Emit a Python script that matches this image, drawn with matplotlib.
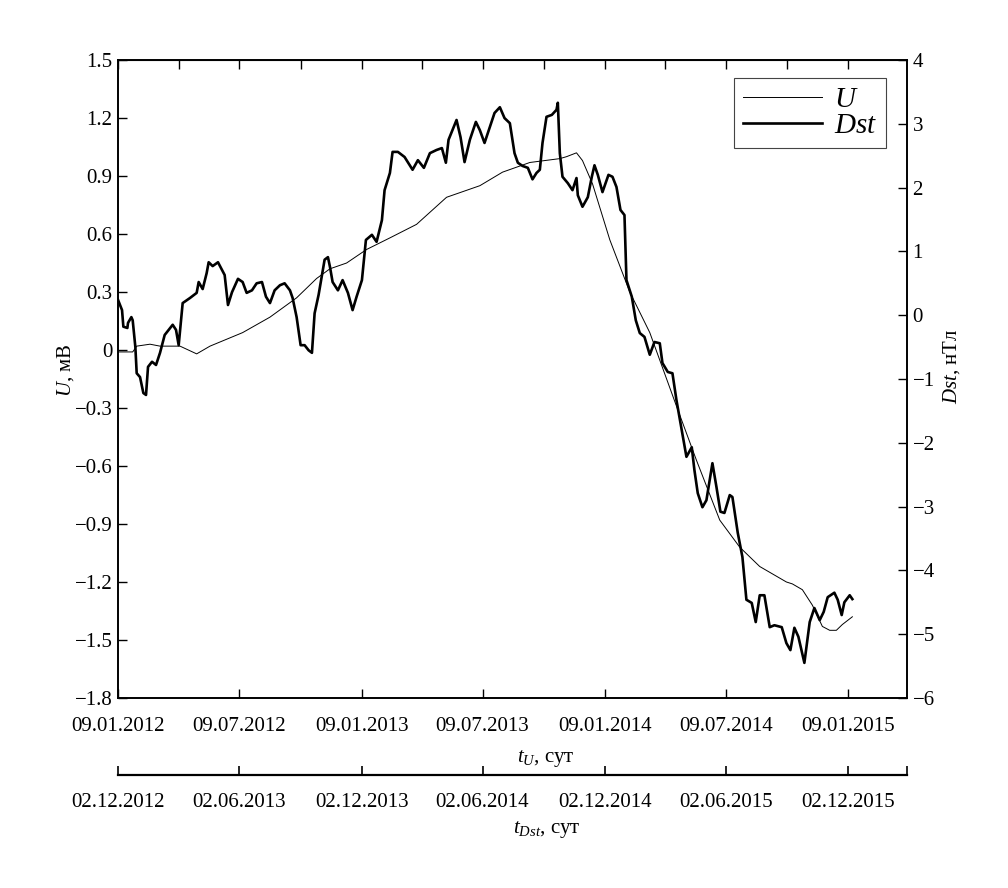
import numpy as np
import matplotlib
matplotlib.use('Agg')
import matplotlib.pyplot as plt

plt.rcParams['font.family'] = 'Liberation Serif'
plt.rcParams['mathtext.fontset'] = 'custom'
plt.rcParams['mathtext.rm'] = 'Liberation Serif'
plt.rcParams['mathtext.it'] = 'Liberation Serif:italic'

# days since 09.01.2012, U in mV
u_days = [0, 22, 28, 48, 63, 93, 118, 138, 187, 228, 268, 298, 318, 343, 373, 408,
          448, 493, 543, 577, 618, 663, 673, 688, 697, 712, 738, 768, 798, 838, 868,
          903, 933, 963, 1003, 1012, 1027, 1042, 1057, 1068, 1078, 1087, 1102]
u_vals = [-0.01, -0.01, 0.02, 0.03, 0.02, 0.02, -0.02, 0.02, 0.09, 0.17, 0.27, 0.37,
          0.42, 0.45, 0.52, 0.58, 0.65, 0.79, 0.85, 0.92, 0.97, 0.99, 1.00, 1.02, 0.98,
          0.86, 0.57, 0.30, 0.09, -0.29, -0.57, -0.88, -1.02, -1.12, -1.20, -1.21,
          -1.24, -1.32, -1.43, -1.45, -1.45, -1.42, -1.38]

# days on the same (shifted) scale, Dst in nT
dst_days = [0, 6, 8, 14, 15, 20, 22, 26, 28, 33, 38, 42, 45, 51, 57, 63, 70, 76, 82, 87,
            91, 97, 108, 118, 121, 127, 133, 136, 142, 150, 156, 160, 165, 171, 180, 187,
            193, 201, 208, 216, 222, 228, 235, 243, 250, 258, 262, 268, 274, 280, 286,
            291, 295, 301, 310, 315, 318, 322, 330, 337, 345, 352, 358, 366, 372, 381,
            388, 396, 400, 408, 412, 420, 430, 442, 450, 459, 468, 478, 486, 492, 496,
            508, 514, 520, 528, 537, 543, 550, 558, 565, 573, 580, 588, 595, 600, 607,
            615, 622, 628, 633, 637, 643, 651, 658, 660, 663, 667, 675, 682, 688, 690,
            697, 705, 711, 715, 720, 727, 736, 742, 748, 754, 760, 763, 771, 777, 783,
            790, 798, 805, 813, 817, 825, 832, 838, 846, 853, 861, 865, 870, 877, 883,
            892, 898, 904, 910, 918, 922, 930, 937, 943, 951, 957, 963, 970, 978, 985,
            996, 1003, 1009, 1015, 1021, 1030, 1038, 1045, 1053, 1059, 1065, 1075, 1080,
            1086, 1090, 1098, 1102]
dst_vals = [0.24, 0.08, -0.18, -0.20, -0.12, -0.03, -0.08, -0.50, -0.91, -0.97, -1.22,
            -1.25, -0.81, -0.73, -0.78, -0.59, -0.31, -0.23, -0.15, -0.23, -0.47, 0.19,
            0.27, 0.35, 0.52, 0.41, 0.66, 0.83, 0.77, 0.83, 0.71, 0.63, 0.16, 0.36, 0.57,
            0.52, 0.35, 0.39, 0.50, 0.52, 0.29, 0.19, 0.39, 0.47, 0.50, 0.39, 0.27, -0.03,
            -0.47, -0.47, -0.55, -0.59, 0.03, 0.32, 0.87, 0.91, 0.76, 0.52, 0.39, 0.55,
            0.35, 0.08, 0.29, 0.55, 1.18, 1.26, 1.15, 1.49, 1.96, 2.23, 2.56, 2.56, 2.48,
            2.28, 2.43, 2.31, 2.54, 2.59, 2.62, 2.39, 2.75, 3.06, 2.79, 2.40, 2.75, 3.03,
            2.90, 2.70, 2.95, 3.17, 3.26, 3.09, 3.01, 2.54, 2.39, 2.34, 2.31, 2.13, 2.23,
            2.28, 2.70, 3.11, 3.14, 3.22, 3.33, 2.54, 2.17, 2.07, 1.96, 2.15, 1.88, 1.70,
            1.85, 2.17, 2.35, 2.20, 1.93, 2.20, 2.17, 2.01, 1.65, 1.57, 0.55, 0.29, -0.08,
            -0.28, -0.34, -0.62, -0.42, -0.44, -0.75, -0.89, -0.91, -1.33, -1.80, -2.22,
            -2.07, -2.43, -2.79, -3.01, -2.90, -2.32, -2.69, -3.08, -3.10, -2.82, -2.85,
            -3.41, -3.79, -4.46, -4.51, -4.81, -4.39, -4.39, -4.89, -4.86, -4.89, -5.14,
            -5.25, -4.90, -5.04, -5.45, -4.81, -4.59, -4.78, -4.65, -4.42, -4.35, -4.46,
            -4.70, -4.50, -4.39, -4.45]

tick_days = [0, 182, 366, 547, 731, 912, 1096]
u_labels = ['09.01.2012', '09.07.2012', '09.01.2013', '09.07.2013',
            '09.01.2014', '09.07.2014', '09.01.2015']
dst_labels = ['02.12.2012', '02.06.2013', '02.12.2013', '02.06.2014',
              '02.12.2014', '02.06.2015', '02.12.2015']
top_days = [0, 91, 182, 274, 366, 456, 547, 639, 731, 821, 912, 1004, 1096]
u_yticks = [1.5, 1.2, 0.9, 0.6, 0.3, 0, -0.3, -0.6, -0.9, -1.2, -1.5, -1.8]
u_ylabels = ['1.5', '1.2', '0.9', '0.6', '0.3', '0', '\u22120.3', '\u22120.6',
             '\u22120.9', '\u22121.2', '\u22121.5', '\u22121.8']
dst_yticks = [4, 3, 2, 1, 0, -1, -2, -3, -4, -5, -6]
x_end = 1184

fs = 15

fig = plt.figure(figsize=(10.08, 8.88), dpi=100)
ax = fig.add_axes([0.1171, 0.2140, 0.7827, 0.7184])
ax2 = ax.twinx()

l1, = ax.plot(u_days, u_vals, color='black', lw=0.7, label='$U$')
l2, = ax2.plot(dst_days, dst_vals, color='black', lw=1.9, label='$Dst$')

ax.set_xlim(0, x_end)
ax.set_ylim(-1.8, 1.5)
ax2.set_ylim(-6, 4)

ax.set_xticks(tick_days)
ax.set_xticklabels(u_labels, fontsize=fs)
ax.set_yticks(u_yticks)
ax.set_yticklabels(u_ylabels, fontsize=fs)
ax.tick_params(axis='x', direction='in', length=6.5, width=1, pad=14)
ax.tick_params(axis='y', direction='in', length=6.5, width=1, pad=4)
ax.tick_params(top=False)

ax2.set_yticks(dst_yticks)
ax2.set_yticklabels([str(v).replace('-', '\u2212') for v in dst_yticks], fontsize=fs)
ax2.tick_params(axis='y', direction='in', length=6.5, width=1, pad=4)

# ticks on the top spine
axt = ax.secondary_xaxis('top')
axt.set_xticks(top_days)
axt.set_xticklabels([])
axt.tick_params(direction='in', length=6.5, width=1)

for a in (ax, ax2):
    for s in a.spines.values():
        s.set_linewidth(1.2)

ax.set_ylabel('$U$, мВ', fontsize=fs, va='center')
ax.yaxis.set_label_coords(-0.066, 0.514)
ax2.set_ylabel('$Dst$, нТл', fontsize=fs, va='center', rotation=90)
ax2.yaxis.set_label_coords(1.057, 0.52)

leg = ax2.legend([l1, l2], ['$U$', '$Dst$'], loc='upper right',
                 bbox_to_anchor=(0.973, 0.972), borderaxespad=0, fontsize=21,
                 fancybox=False, edgecolor='#444444', framealpha=1, handlelength=2.7,
                 borderpad=0.3, labelspacing=0.0, handletextpad=0.4)
leg.get_frame().set_linewidth(0.8)

# second time axis for Dst
axb = fig.add_axes([0.1171, 1 - 775 / 888, 0.7827, 0.0001])
axb.set_facecolor('none')
for side in ('left', 'right', 'top'):
    axb.spines[side].set_visible(False)
axb.spines['bottom'].set_linewidth(1.6)
axb.set_xlim(0, x_end)
axb.set_yticks([])
axb.set_xticks(tick_days + [x_end])
axb.set_xticklabels(dst_labels + [''], fontsize=fs)
axb.tick_params(axis='x', direction='in', length=6.5, width=1.2, pad=13)

fig.text(546 / 1008, 1 - 758 / 888, '$t_U$, сут', fontsize=fs, ha='center', va='center')
fig.text(547 / 1008, 1 - 829 / 888, '$t_{Dst}$, сут', fontsize=fs, ha='center', va='center')

fig.savefig('out.png', dpi=100)
